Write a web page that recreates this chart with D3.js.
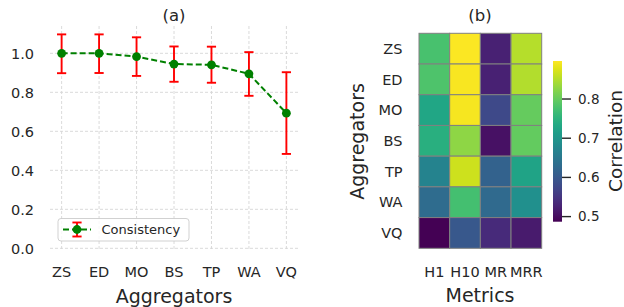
<!DOCTYPE html>
<html>
<head>
<meta charset="utf-8">
<script src="https://cdn.jsdelivr.net/npm/d3@7"></script>
<style>
body { margin: 0; background: #fff; }
text { font-family: "DejaVu Sans", sans-serif; fill: #262626; }
</style>
</head>
<body>
<svg id="chart" width="624" height="307"></svg>
<script>
const aggregators = ["ZS", "ED", "MO", "BS", "TP", "WA", "VQ"]
const consistency = [1.0, 1.0, 0.983, 0.945, 0.941, 0.895, 0.693]
const errLow = [0.898, 0.899, 0.884, 0.854, 0.849, 0.782, 0.484]
const errHigh = [1.097, 1.097, 1.082, 1.035, 1.034, 1.006, 0.903]
const yTicks = [0.0, 0.2, 0.4, 0.6, 0.8, 1.0]

const metrics = ["H1", "H10", "MR", "MRR"]
const corrZS = [0.778, 0.895, 0.524, 0.852]
const corrED = [0.782, 0.893, 0.524, 0.850]
const corrMO = [0.730, 0.892, 0.578, 0.800]
const corrBS = [0.745, 0.827, 0.505, 0.798]
const corrTP = [0.670, 0.866, 0.614, 0.725]
const corrWA = [0.630, 0.774, 0.627, 0.692]
const corrVQ = [0.487, 0.598, 0.536, 0.516]
const cbTicks = [0.5, 0.6, 0.7, 0.8]

const svg = d3.select("#chart")

// ---- (a) consistency ----
let x = d3.scaleLinear().domain([-0.31, 6.31]).range([50, 298])
let y = d3.scaleLinear().domain([0, 1]).range([248.3, 53.3])
let yTop = y(1.14), yBot = y(-0.005)

let a = svg.append("g")
a.selectAll(".hg").data(yTicks).enter().append("line")
    .attr("x1", 50).attr("x2", 298)
    .attr("y1", d => y(d)).attr("y2", d => y(d))
    .attr("stroke", "#d6d6d6").attr("stroke-dasharray", "3,2").attr("stroke-width", 0.9)
a.selectAll(".vg").data(aggregators).enter().append("line")
    .attr("x1", (d, i) => x(i)).attr("x2", (d, i) => x(i))
    .attr("y1", yTop).attr("y2", yBot)
    .attr("stroke", "#d6d6d6").attr("stroke-dasharray", "3,2").attr("stroke-width", 0.9)

a.selectAll(".yl").data(yTicks).enter().append("text")
    .attr("x", 34).attr("y", d => y(d)).attr("dy", "0.36em")
    .attr("text-anchor", "end").style("font-size", "14.5px")
    .text(d => d3.format(".1f")(d))
a.selectAll(".xl").data(aggregators).enter().append("text")
    .attr("x", (d, i) => x(i)).attr("y", 277)
    .attr("text-anchor", "middle").style("font-size", "14.5px")
    .text(d => d)
a.append("text").attr("x", 174).attr("y", 303).attr("text-anchor", "middle")
    .style("font-size", "19px").text("Aggregators")
a.append("text").attr("x", 174).attr("y", 21).attr("text-anchor", "middle")
    .style("font-size", "16.5px").text("(a)")

let line = d3.line().x((d, i) => x(i)).y(d => y(d))
a.append("path").datum(consistency).attr("d", line)
    .attr("fill", "none").attr("stroke", "green").attr("stroke-width", 2)
    .attr("stroke-dasharray", "6,3")

let eb = a.selectAll(".eb").data(aggregators).enter().append("g")
eb.append("line").attr("x1", (d, i) => x(i)).attr("x2", (d, i) => x(i))
    .attr("y1", (d, i) => y(errLow[i])).attr("y2", (d, i) => y(errHigh[i]))
    .attr("stroke", "red").attr("stroke-width", 1.9)
eb.append("line").attr("x1", (d, i) => x(i) - 4.6).attr("x2", (d, i) => x(i) + 4.6)
    .attr("y1", (d, i) => y(errLow[i])).attr("y2", (d, i) => y(errLow[i]))
    .attr("stroke", "red").attr("stroke-width", 1.9)
eb.append("line").attr("x1", (d, i) => x(i) - 4.6).attr("x2", (d, i) => x(i) + 4.6)
    .attr("y1", (d, i) => y(errHigh[i])).attr("y2", (d, i) => y(errHigh[i]))
    .attr("stroke", "red").attr("stroke-width", 1.9)
a.selectAll(".pt").data(consistency).enter().append("circle")
    .attr("cx", (d, i) => x(i)).attr("cy", d => y(d)).attr("r", 4.4)
    .attr("fill", "green")

// legend
let lg = a.append("g")
lg.append("rect").attr("x", 58).attr("y", 218.5).attr("width", 131).attr("height", 22.5)
    .attr("rx", 3).attr("fill", "white").attr("fill-opacity", 0.8)
    .attr("stroke", "#cccccc").attr("stroke-width", 0.9)
lg.append("line").attr("x1", 63).attr("x2", 91).attr("y1", 229.5).attr("y2", 229.5)
    .attr("stroke", "green").attr("stroke-width", 2).attr("stroke-dasharray", "6,3")
lg.append("line").attr("x1", 77).attr("x2", 77).attr("y1", 222.5).attr("y2", 236.5)
    .attr("stroke", "red").attr("stroke-width", 1.9)
lg.append("line").attr("x1", 72.4).attr("x2", 81.6).attr("y1", 222.5).attr("y2", 222.5)
    .attr("stroke", "red").attr("stroke-width", 1.9)
lg.append("line").attr("x1", 72.4).attr("x2", 81.6).attr("y1", 236.5).attr("y2", 236.5)
    .attr("stroke", "red").attr("stroke-width", 1.9)
lg.append("circle").attr("cx", 77).attr("cy", 229.5).attr("r", 4.4).attr("fill", "green")
lg.append("text").attr("x", 101.5).attr("y", 229.5).attr("dy", "0.36em")
    .style("font-size", "13px").text("Consistency")

// ---- (b) heatmap ----
const rows = [corrZS, corrED, corrMO, corrBS, corrTP, corrWA, corrVQ]
let color = d3.scaleSequential(d3.interpolateViridis).domain([0.487, 0.897])
let hx = d3.scaleBand().domain(metrics).range([419, 541.7])
let hy = d3.scaleBand().domain(aggregators).range([33.3, 248.3])

let b = svg.append("g")
rows.forEach((r, ri) => {
  b.selectAll(".c" + ri).data(r).enter().append("rect")
    .attr("x", (d, i) => hx(metrics[i])).attr("y", hy(aggregators[ri]))
    .attr("width", hx.bandwidth()).attr("height", hy.bandwidth())
    .attr("fill", d => color(d)).attr("stroke", "#808080").attr("stroke-width", 1)
})
b.selectAll(".hyl").data(aggregators).enter().append("text")
    .attr("x", 402.5).attr("y", d => hy(d) + hy.bandwidth() / 2).attr("dy", "0.36em")
    .attr("text-anchor", "end").style("font-size", "14.5px").text(d => d)
b.selectAll(".hxl").data(metrics).enter().append("text")
    .attr("x", d => hx(d) + hx.bandwidth() / 2).attr("y", 277)
    .attr("text-anchor", "middle").style("font-size", "14.5px").text(d => d)
b.append("text").attr("x", 480).attr("y", 302).attr("text-anchor", "middle")
    .style("font-size", "19px").text("Metrics")
b.append("text").attr("transform", "translate(364,141.5) rotate(-90)")
    .attr("text-anchor", "middle").style("font-size", "19px").text("Aggregators")
b.append("text").attr("x", 480).attr("y", 21).attr("text-anchor", "middle")
    .style("font-size", "16.5px").text("(b)")

// colorbar
let cy = d3.scaleLinear().domain([0.487, 0.897]).range([221.7, 61])
let defs = svg.append("defs")
let grad = defs.append("linearGradient").attr("id", "vir")
    .attr("x1", 0).attr("x2", 0).attr("y1", 1).attr("y2", 0)
d3.range(0, 1.0001, 0.05).forEach(t => {
  grad.append("stop").attr("offset", t).attr("stop-color", d3.interpolateViridis(t))
})
b.append("rect").attr("x", 553).attr("y", 61).attr("width", 9).attr("height", 160.7)
    .attr("fill", "url(#vir)")
b.selectAll(".cbt").data(cbTicks).enter().append("line")
    .attr("x1", 562).attr("x2", 571).attr("y1", d => cy(d)).attr("y2", d => cy(d))
    .attr("stroke", "#262626").attr("stroke-width", 1.4)
b.selectAll(".cbl").data(cbTicks).enter().append("text")
    .attr("x", 578).attr("y", d => cy(d)).attr("dy", "0.36em")
    .style("font-size", "13.5px").text(d => d3.format(".1f")(d))
b.append("text").attr("transform", "translate(621.5,141) rotate(-90)")
    .attr("text-anchor", "middle").style("font-size", "18.5px").text("Correlation")
</script>
</body>
</html>
